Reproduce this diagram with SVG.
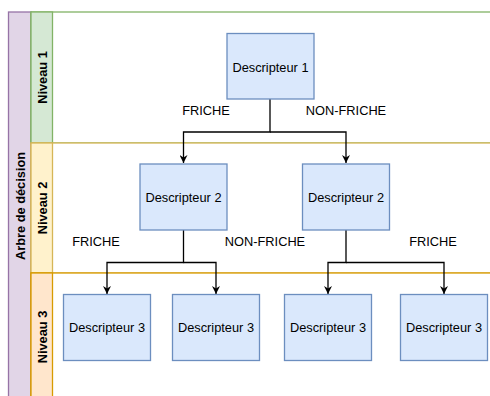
<svg xmlns="http://www.w3.org/2000/svg" width="490" height="396" viewBox="0 0 490 396">
  <defs>
    <style>
      .lbl { font-family: "Liberation Sans", Arial, sans-serif; font-size: 12.8px; fill: #000; }
      .hdr { font-family: "Liberation Sans", Arial, sans-serif; font-size: 12.8px; font-weight: bold; fill: #000; text-anchor: middle; dominant-baseline: central; }
      .box { fill: #dae8fc; stroke: #6c8ebf; stroke-width: 1.3; }
      .edge { fill: none; stroke: #000; stroke-width: 1.3; }
      .mid { text-anchor: middle; dominant-baseline: central; }
    </style>
    <marker id="arrow" viewBox="0 0 10 10" refX="10" refY="5" markerWidth="8" markerHeight="8" markerUnits="userSpaceOnUse" orient="auto">
      <path d="M0,0 L10,5 L0,10 L3,5 Z" fill="#000"/>
    </marker>
  </defs>

  <rect width="490" height="396" fill="#fff"/>

  <!-- pool -->
  <g id="pool">
    <rect x="8.5" y="12" width="22.5" height="400" fill="#e1d5e7" stroke="#9673a6" stroke-width="1.3"/>
    <text class="hdr" transform="translate(20,206) rotate(-90)">Arbre de décision</text>
  </g>

  <!-- lanes -->
  <g id="lane1">
    <rect x="31" y="12" width="470" height="131" fill="#fff" stroke="#82b366" stroke-width="1.3"/>
    <rect x="31" y="12" width="21.5" height="131" fill="#d5e8d4" stroke="#82b366" stroke-width="1.3"/>
    <text class="hdr" transform="translate(42,77.5) rotate(-90)">Niveau 1</text>
  </g>
  <g id="lane2">
    <rect x="31" y="143" width="470" height="130" fill="#fff" stroke="#d6b656" stroke-width="1.3"/>
    <rect x="31" y="143" width="21.5" height="130" fill="#fff2cc" stroke="#d6b656" stroke-width="1.3"/>
    <text class="hdr" transform="translate(42,208) rotate(-90)">Niveau 2</text>
  </g>
  <g id="lane3">
    <rect x="31" y="273" width="470" height="140" fill="#fff" stroke="#d79b00" stroke-width="1.3"/>
    <rect x="31" y="273" width="21.5" height="140" fill="#ffe6cc" stroke="#d79b00" stroke-width="1.3"/>
    <text class="hdr" transform="translate(42,337) rotate(-90)">Niveau 3</text>
  </g>

  <!-- connectors -->
  <g id="connectors">
    <path class="edge" d="M270,99 V132 H183.5 V163" marker-end="url(#arrow)"/>
    <path class="edge" d="M270,132 H346 V163" marker-end="url(#arrow)"/>
    <path class="edge" d="M183.5,230 V262.5 H107 V294" marker-end="url(#arrow)"/>
    <path class="edge" d="M183.5,262.5 H216 V294" marker-end="url(#arrow)"/>
    <path class="edge" d="M346,230 V262.5 H328 V294" marker-end="url(#arrow)"/>
    <path class="edge" d="M346,262.5 H444 V294" marker-end="url(#arrow)"/>
    <text class="lbl mid" x="206" y="110">FRICHE</text>
    <text class="lbl mid" x="346" y="110">NON-FRICHE</text>
    <text class="lbl mid" x="96" y="241">FRICHE</text>
    <text class="lbl mid" x="265" y="241">NON-FRICHE</text>
    <text class="lbl mid" x="433" y="241">FRICHE</text>
  </g>

  <!-- nodes -->
  <g id="d1">
    <rect class="box" x="227" y="33.5" width="87" height="65.5"/>
    <text class="lbl mid" x="270.5" y="67">Descripteur 1</text>
  </g>
  <g id="d2a">
    <rect class="box" x="140" y="164" width="87" height="66"/>
    <text class="lbl mid" x="183.5" y="197">Descripteur 2</text>
  </g>
  <g id="d2b">
    <rect class="box" x="302.5" y="164" width="87" height="66"/>
    <text class="lbl mid" x="346" y="197">Descripteur 2</text>
  </g>
  <g id="d3a">
    <rect class="box" x="63.5" y="294.5" width="87" height="66"/>
    <text class="lbl mid" x="107" y="327.5">Descripteur 3</text>
  </g>
  <g id="d3b">
    <rect class="box" x="172.5" y="294.5" width="87" height="66"/>
    <text class="lbl mid" x="216" y="327.5">Descripteur 3</text>
  </g>
  <g id="d3c">
    <rect class="box" x="284.5" y="294.5" width="87" height="66"/>
    <text class="lbl mid" x="328" y="327.5">Descripteur 3</text>
  </g>
  <g id="d3d">
    <rect class="box" x="400.5" y="294.5" width="87" height="66"/>
    <text class="lbl mid" x="444" y="327.5">Descripteur 3</text>
  </g>
</svg>
